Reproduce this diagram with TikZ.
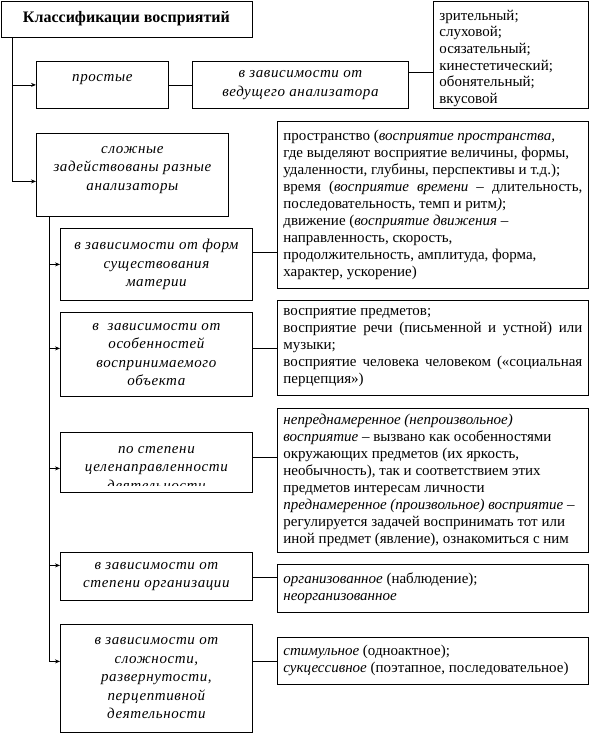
\documentclass[tikz,border=0pt]{standalone}
\usepackage{fontspec}
\setmainfont{Liberation Serif}
\newfontfamily\slant[LetterSpace=4]{Liberation Serif Italic}
\usetikzlibrary{arrows.meta,positioning}
\setlength{\parindent}{0pt}
\tikzset{
  >={Stealth[length=5pt,width=4pt]},
  kind/.style ={draw, line width=0.8pt, anchor=north west, inner sep=0pt, align=center,
                font=\slant\fontsize{15}{18.5}\selectfont},
  info/.style ={draw, line width=0.8pt, anchor=north west, inner xsep=6pt, inner ysep=0pt,
                align=justify, font=\fontsize{15}{17}\selectfont},
  link/.style ={line width=0.8pt},
  feed/.style ={line width=0.8pt, ->},
}

\begin{document}
\begin{tikzpicture}[x=1pt, y=-1pt]
  \useasboundingbox (0,0) rectangle (590,734);

  % ---------- top: title and simple perceptions ----------
  \node[draw, line width=0.8pt, anchor=north west, minimum width=251pt, minimum height=36pt,
        font=\bfseries\fontsize{16}{18}\selectfont] (title) at (0.5,0.5) {Классификации восприятий};

  \node[kind, minimum width=132pt, minimum height=47pt, text depth=13pt] (simple) at (36,61) {простые};
  \node[kind, minimum width=216pt, minimum height=47pt] (leading) at (192,61)
    {в зависимости от\\ведущего анализатора};
  \node[info, text width=143pt, minimum height=107pt, align=left, text height=17pt,
        font=\fontsize{15}{16.6}\selectfont] (senses) at (433,1)
    {зрительный;\\слуховой;\\осязательный;\\кинестетический;\\обонятельный;\\вкусовой};

  % ---------- complex perceptions ----------
  \node[kind, minimum width=192pt, minimum height=83pt, text depth=13pt] (complex) at (36,133)
    {сложные\\задействованы разные\\анализаторы};

  \node[kind, minimum width=192pt, minimum height=72pt] (matter) at (60,228)
    {в зависимости от форм\\существования\\материи};
  \node[info, text width=299pt, minimum height=167pt] (space) at (277,121)
    {пространство (\textit{восприятие пространства,}\newline
     где выделяют восприятие величины, формы,\newline
     удаленности, глубины, перспективы и т.д.);\newline
     время (\textit{восприятие времени} – длительность,\linebreak
     последовательность, темп и ритм\textit{)};\newline
     движение (\textit{восприятие движения} –\newline
     направленность, скорость,\newline
     продолжительность, амплитуда, форма,\newline
     характер, ускорение)};

  \node[kind, minimum width=192pt, minimum height=84pt] (object) at (60,312)
    {в~~зависимости от\\особенностей\\воспринимаемого\\объекта};
  \node[info, text width=299pt, minimum height=95pt] (things) at (277,300)
    {восприятие предметов;\newline
     восприятие речи (письменной и устной) или\linebreak
     музыки;\newline
     восприятие человека человеком («социальная\linebreak
     перцепция»)};

  % aim box: last line is cut by the frame
  \node[kind, minimum width=192pt, minimum height=60pt] (aim) at (60,432) {};
  \begin{scope}
    \clip (aim.north west) rectangle ([yshift=7pt]aim.south east);
    \node[kind, draw=none, anchor=north] (aimtext) at ([yshift=-14pt]aim.north)
      {по степени\\целенаправленности\\деятельности};
  \end{scope}
  \node[info, text width=299pt, minimum height=144pt] (intent) at (277,408)
    {\textit{непреднамеренное (непроизвольное)}\newline
     \textit{восприятие} – вызвано как особенностями\newline
     окружающих предметов (их яркость,\newline
     необычность), так и соответствием этих\newline
     предметов интересам личности\newline
     \textit{преднамеренное (произвольное) восприятие} –\newline
     регулируется задачей воспринимать тот или\newline
     иной предмет (явление), ознакомиться с ним};

  \node[kind, minimum width=192pt, minimum height=48pt] (order) at (60,552)
    {в зависимости от\\степени организации};
  \node[info, text width=299pt, minimum height=48pt] (organized) at (277,564)
    {\textit{организованное} (наблюдение);\newline
     \textit{неорганизованное}};

  \node[kind, minimum width=192pt, minimum height=108pt] (depth) at (60,624)
    {в зависимости от\\сложности,\\развернутости,\\перцептивной\\деятельности};
  \node[info, text width=299pt, minimum height=47pt] (stimulus) at (277,637)
    {\textit{стимульное} (одноактное);\newline
     \textit{сукцессивное} (поэтапное, последовательное)};

  % ---------- connectors ----------
  \draw[feed] ([xshift=12pt]title.south west) |- (simple.west);
  \draw[feed] ([xshift=12pt]title.south west) |- ([yshift=-6.5pt]complex.west);
  \draw[link] (simple) -- (leading);
  \draw[link] ([yshift=12.5pt]leading.east) -- ([yshift=12.5pt]leading.east -| senses.west);

  \foreach \n/\s in {matter/0, object/6, aim/-6, order/11, depth/17}
    \draw[feed] ([xshift=13pt]complex.south west) |- ([yshift=\s pt]\n.west);

  \draw[link] ([yshift=12pt]matter.east) -- ([yshift=12pt]matter.east -| space.west);
  \draw[link] ([yshift=6pt]object.east) -- ([yshift=6pt]object.east -| things.west);
  \draw[link] ([yshift=5pt]aim.east) -- ([yshift=5pt]aim.east -| intent.west);
  \draw[link] ([yshift=-1pt]order.east) -- ([yshift=-1pt]order.east -| organized.west);
  \draw[link] ([yshift=17pt]depth.east) -- ([yshift=17pt]depth.east -| stimulus.west);
\end{tikzpicture}
\end{document}
